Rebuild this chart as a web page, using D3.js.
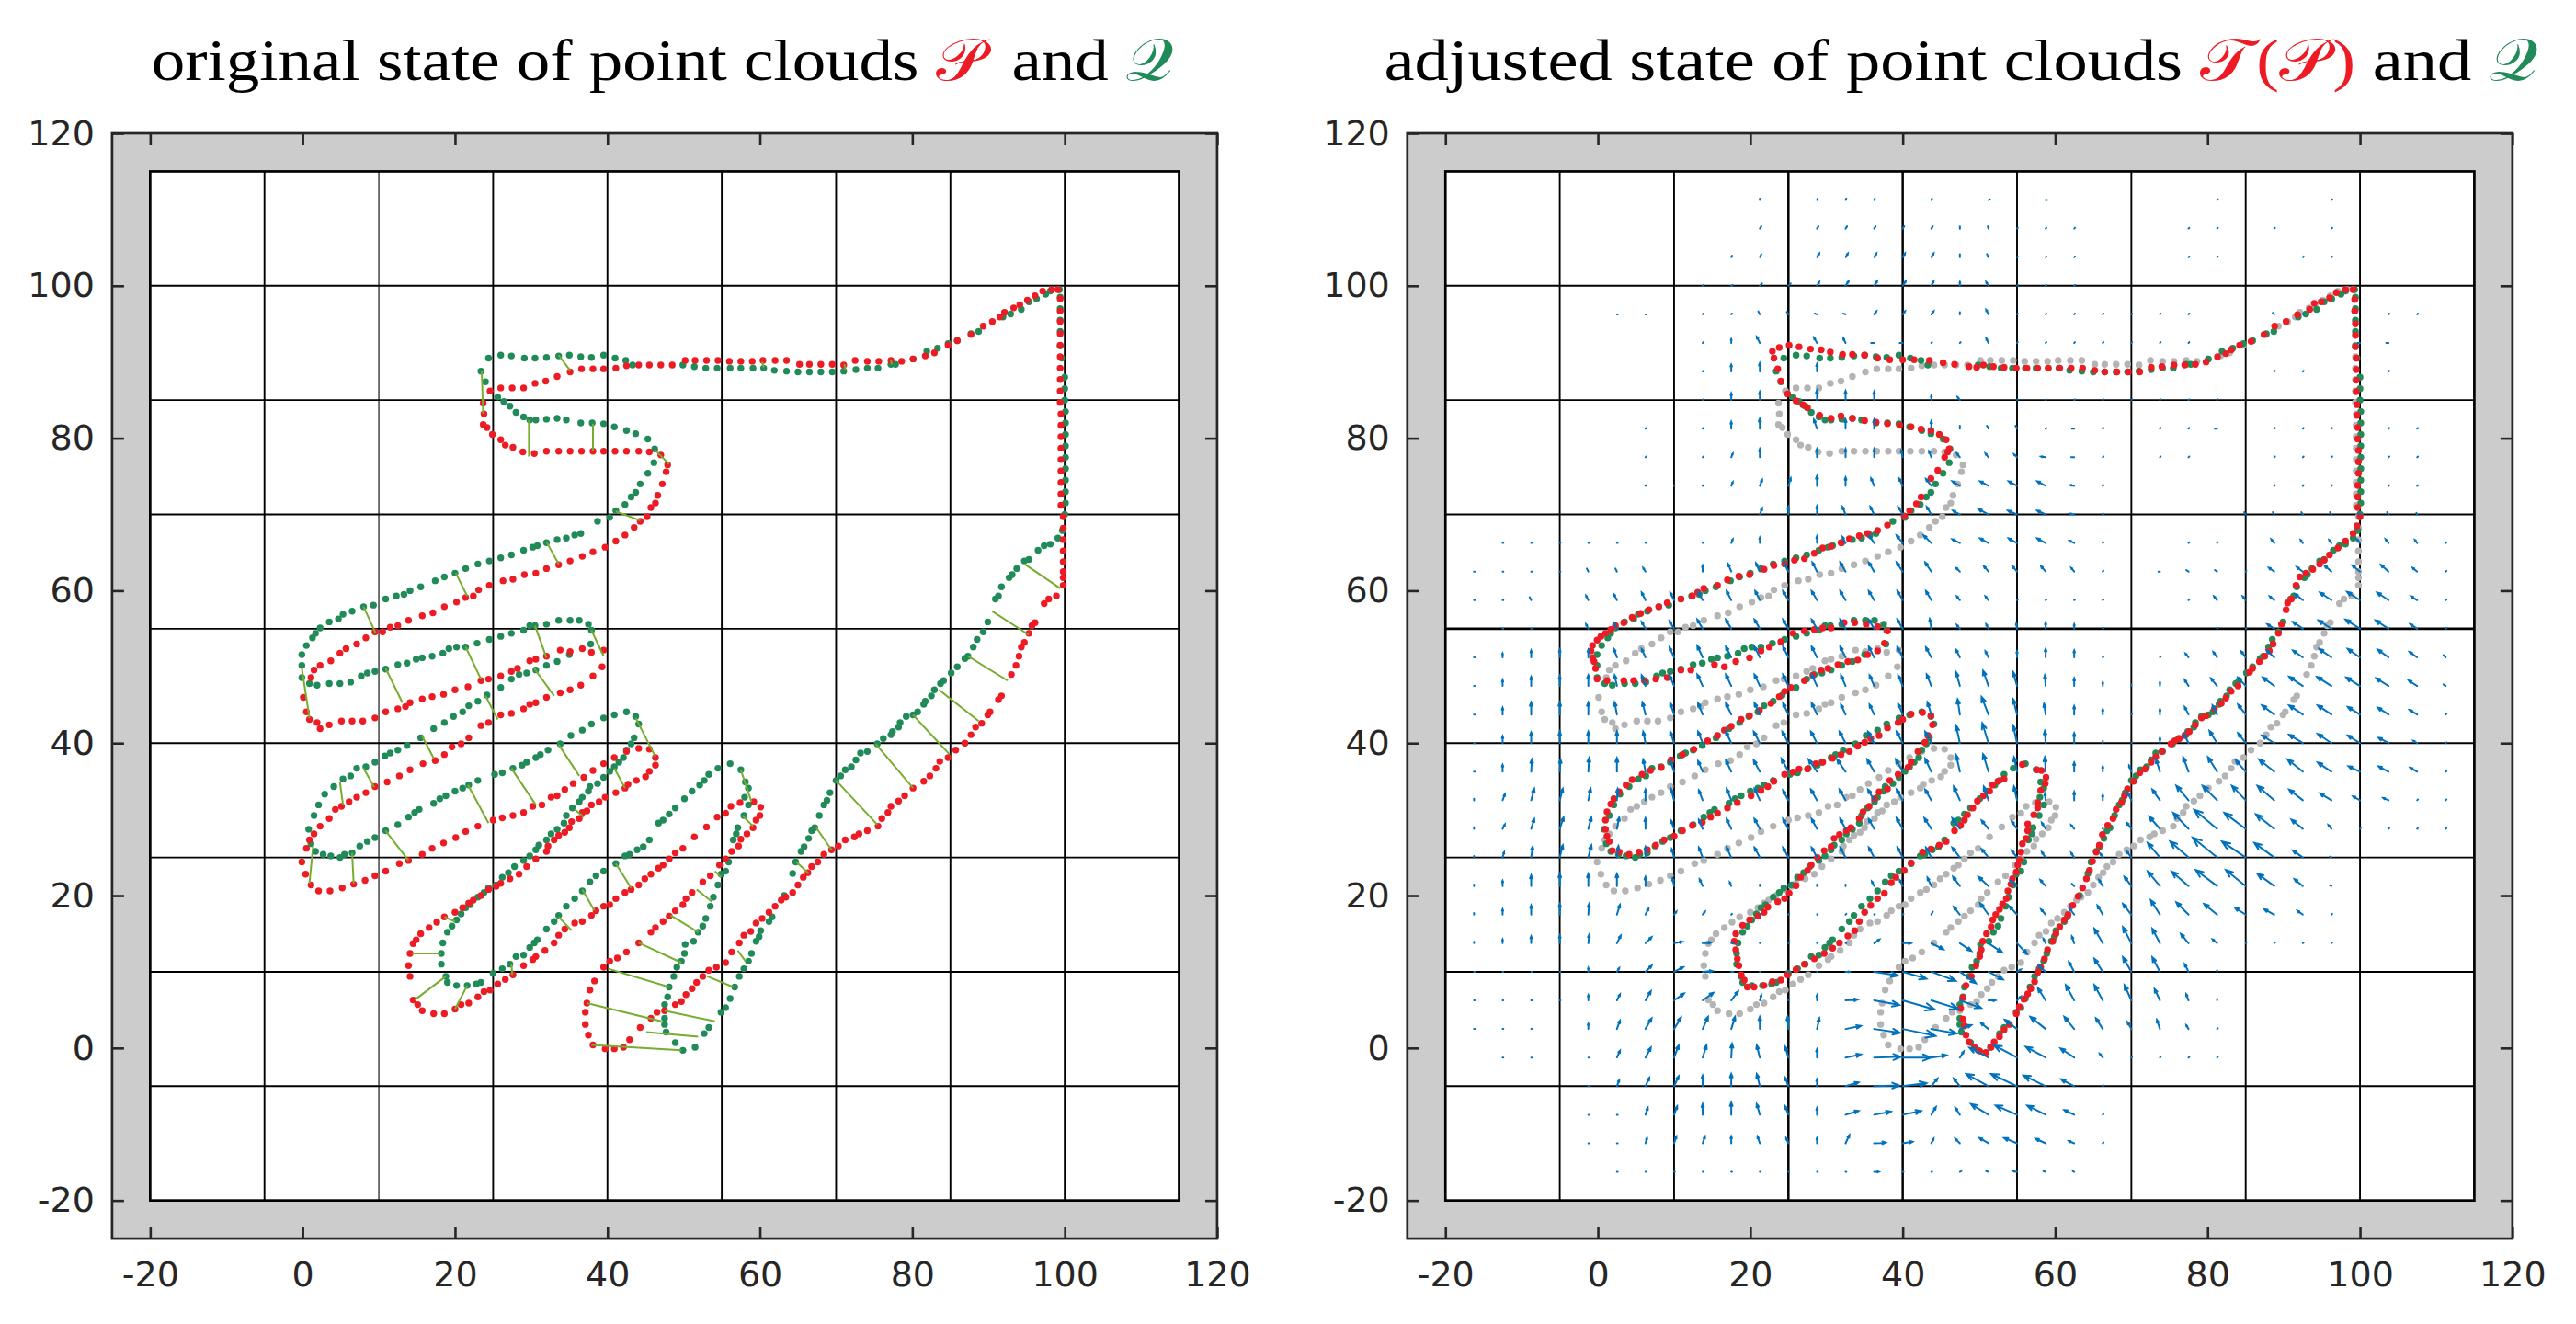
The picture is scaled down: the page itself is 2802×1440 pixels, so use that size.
<!DOCTYPE html>
<html>
<head>
<meta charset="utf-8">
<script src="https://cdn.jsdelivr.net/npm/d3@7"></script>
<style>
  body { margin: 0; background: #fff; }
</style>
</head>
<body>
<div id="chart"></div>
<script>
// ---- data ----
const axisTicks = [-20, 0, 20, 40, 60, 80, 100, 120];
const gridLines = [-5, 10, 25, 40, 55, 70, 85, 100];
const quiverGrid = [-16.25, -12.5, -8.75, -5, -1.25, 2.5, 6.25, 10, 13.75, 17.5, 21.25, 25, 28.75, 32.5, 36.25, 40, 43.75,
  47.5, 51.25, 55, 58.75, 62.5, 66.25, 70, 73.75, 77.5, 81.25, 85, 88.75, 92.5, 96.25, 100, 103.75, 107.5, 111.25];

// original cloud P (red on the left, grey on the right)
const cloudP = [[99.1,99.5],[99.4,98.3],[99.4,96.7],[99.4,95.3],[99.4,93.7],[99.4,92.2],[99.4,90.7],[99.4,89.2],[99.4,87.7],[99.4,86.2],[99.4,84.7],[99.5,83.2],[99.5,81.7],[99.5,80.2],[99.5,78.7],[99.5,77.2],[99.5,75.7],[99.5,74.2],[99.5,72.7],[99.5,71.2],[99.8,69.7],[99.8,68.2],[99.8,66.7],[99.8,65.2],[99.8,63.8],[99.8,62.5],[99.8,61.7],[99.8,60.7],
  [98.9,59.3],[97.9,58.9],[97.3,58.3],[96.1,55.8],[95.7,55.4],[95.3,54.4],[94.7,53.2],[94.3,52.6],[94,51.4],[93.6,50.2],[93,49],[91.7,46.2],[91.3,45.7],[90.2,44.1],[89.9,43.7],[89.1,42.6],[88.3,42.1],[87.7,41.1],[86.9,40],[85.7,39.1],[84.7,38.1],[83.6,37.6],[83.1,36.7],[82.3,35.7],[81.5,35],[80.1,34.1],[79,33.1],[78.2,32.4],[77.2,31.7],[76.8,30.9],[76,30.1],[75.5,29.1],[74.1,28.5],[73,28.1],[72.4,27.7],[71.2,27.3],[70.3,26.5],[69.4,26],[68.4,25.4],[67.6,24.4],[66.8,23.8],[66.3,23],[65.7,22.4],[65,21.4],[64.3,20.4],[63.4,19.8],[62.8,19.4],[62,18.6],[61.2,17.8],[60.3,17],[59.5,16.4],[58.8,15.3],[57.9,14.8],[57.3,13.8],[56.3,12.6],[55.5,11.2],[54.3,10.6],[53.3,10.2],[52.5,9.4],[51.7,8.6],[51.1,7.8],[50.3,7],[49.7,6.1],[48.9,5.7],[47.5,4.9],[46.5,4.7],[45.7,3.9],[44.3,2.7],[42.9,1.1],[42.1,0.1],[40.9,-0.1],[39.7,-0.1],[38.1,0.4],[37.5,1.7],[37.1,3.1],[37.1,4.7],[37.3,5.9],[37.7,7.6],[38.3,8.8],[39.5,10.6],[40.3,11.4],[41.3,11.8],[42.5,12.6],[44.1,13.8],[45.7,15.2],[46.3,15.8],[47.3,16.6],[48.1,17.3],[48.9,18],[49.9,18.8],[50.3,19.6],[51.1,20.4],[52.5,21.8],[53.5,22.6],[54.7,24],[55.5,24.8],[56.3,25.8],[57.2,26.5],[57.5,27.4],[58.3,28.1],[59.1,28.9],[59.5,29.9],[60,30.5],[60.1,31.6],[59.2,32.3],[57.4,32.2],[56.2,31.7],[55.5,30.8],[54.4,30.3],[53,29],[51.4,27.7],[49.9,26.2],[48.9,25.6],[48.1,24.8],[47.3,24],[46.7,23.6],[45.7,22.8],[44.9,22.2],[44.1,21.4],[43.1,20.8],[42.3,20.4],[41.1,19.6],[40.3,18.8],[39.5,18.6],[38.5,18],[37.9,17.4],[36.7,16.6],[35.7,16.4],[34.4,15.6],[33.6,14.8],[33,13.8],[31.8,12.8],[30.6,12],[30.2,11.6],[29,10.8],[27.6,9.6],[26.6,9],[25.6,8.4],[24.6,7.6],[23.8,7.4],[23,6.7],[21.8,5.9],[20.8,5.7],[20,5.1],[18.6,4.5],[17.2,4.5],[15.7,4.9],[15.1,5.7],[14.5,6.3],[14.1,9.4],[13.9,10.8],[14.1,12.4],[14.5,13.7],[14.9,14.2],[15.5,15],[16.6,15.8],[17.6,16.5],[18.6,17.2],[20,17.8],[21,18.4],[21.8,19],[22.4,19.4],[23.4,20],[24.4,20.8],[25.4,21.2],[26,21.6],[27.2,22.2],[28.4,22.8],[29.4,23.8],[30.6,24.8],[32,25.8],[32.2,26.5],[33,27.3],[33.6,27.9],[34.4,28.3],[35,28.9],[35.3,29.7],[36.3,30.1],[36.7,30.9],[37.3,31.1],[37.9,31.9],[38.9,32.3],[39.7,32.9],[41.1,33.5],[42.3,34.1],[42.7,34.6],[43.8,35.1],[45,35.6],[45.5,36.3],[46.3,37.1],[46.3,38.1],[45.5,39.2],[44.1,39.3],[42.5,38.9],[40.9,38.1],[39.5,37.3],[38.1,36.4],[36.9,35.5],[35.5,34.7],[34.4,33.9],[33.4,33.1],[32.6,32.9],[31.4,31.9],[30.2,31.7],[29,30.9],[27.6,30.5],[26.2,30.2],[25,29.9],[23,29.1],[21.4,28.4],[20.1,27.6],[18.5,26.9],[17,26.2],[15.7,25.4],[13.9,24.6],[12.7,24.2],[10.9,23.2],[9.5,22.6],[8.2,22],[6.7,21.5],[5.2,21],[3.6,20.6],[2.1,20.6],[1.1,21.4],[0.4,22.8],[-0.1,24.4],[0.5,26.2],[0.9,27.3],[1.5,28.1],[2.3,29.1],[3.5,30.1],[4.3,31.3],[5.1,31.7],[6.1,32.3],[7.1,32.9],[8.3,33.5],[9.5,34.3],[11.1,34.9],[12.7,35.7],[14.1,36.5],[15.8,37.3],[17.4,37.7],[18.6,38.5],[19.6,39.5],[20.8,39.9],[21.8,40.7],[23.4,42.3],[24.4,42.7],[26,43.7],[27.4,43.9],[29,44.5],[29.8,45.1],[30.6,45.3],[32,46],[33.8,46.6],[35.1,47],[36.5,47.6],[38.1,48.8],[39.3,50],[39.5,52.2],[37.9,51.9],[36.7,52.4],[35.1,52],[33.8,52.2],[32,51.4],[30.6,51],[29.8,50.8],[28.2,49.8],[27.4,49.4],[26,48.8],[24.4,48.4],[23.4,48.2],[21.7,47.4],[20,47],[18.5,46.4],[17,46.1],[15.7,45.8],[14.1,45.3],[13.5,44.8],[12.5,44.5],[10.9,44.1],[9.5,43.3],[7.9,42.9],[6.5,42.9],[5.1,42.9],[3.5,42.4],[2.3,41.9],[1.9,42.7],[0.9,43.1],[0.5,44.1],[0.1,46],[1.1,48.6],[1.5,49.6],[2.3,50.2],[3.7,50.8],[4.9,51.8],[5.7,52.4],[7.1,53],[8.3,53.8],[9.5,54.6],[10.5,54.6],[11.5,55.2],[12.5,55.4],[13.9,56.1],[15.7,56.7],[17.1,57.1],[18.6,57.9],[20.2,58.5],[21.4,59.1],[22.4,59.3],[23.1,60.1],[24.5,60.7],[26.3,61.3],[27.6,61.5],[29.1,62.1],[30.6,62.3],[32,62.9],[33.6,63.4],[35.1,63.9],[36.7,64.5],[38.1,65.1],[39.7,65.7],[41.1,66.5],[42.3,67.3],[43.5,68.3],[44.3,69.1],[45.2,69.7],[45.7,70.9],[46.3,71.5],[46.6,72.5],[47.2,74],[47.7,75.6],[47.9,76.5],[47,77.8],[45.5,78.2],[44.1,78.3],[42.5,78.3],[41,78.3],[39.5,78.3],[38.1,78.3],[36.6,78.3],[35.1,78.3],[33.6,78.3],[32,78.3],[30.4,78],[28.9,78.2],[27.6,78.8],[26.6,79.1],[26,79.8],[24.9,80.5],[24.2,81.4],[23.7,81.8],[23.8,83.2],[23.7,84.6],[24.6,86.2],[26,86.6],[27.5,86.6],[29,86.6],[30.5,87.2],[31.9,87.5],[33.4,88.1],[35.1,88.7],[36.6,89.1],[38.1,89.1],[39.5,89.1],[41.1,89.2],[42.5,89.5],[44.1,89.6],[45.5,89.6],[47,89.6],[48.5,89.6],[50.2,90.2],[51.5,90.2],[53,90.2],[54.5,90.2],[56,90.1],[57.5,90.1],[59,90.1],[60.4,90.2],[62,90.2],[63.5,90.2],[65.2,89.7],[66.5,89.7],[68,89.7],[69.5,89.7],[71,89.6],[72.5,90.2],[74.1,90.1],[75.6,90.1],[77.2,90.2],[78.6,90.1],[80.1,90.4],[81.7,90.8],[82.9,91.2],[84.7,92.2],[85.9,92.8],[87.7,93.6],[89.3,94.7],[90.5,95.3],[91.5,95.9],[92.1,96.5],[93.3,97.1],[94.1,97.5],[95.1,98.1],[96.1,98.7],[97.1,99.3],[98.3,99.5]];

// target cloud Q (green in both panels)
const cloudQ = [[99.3,99.5],[99.4,98.5],[99.4,97],[99.4,95.5],[99.4,94],[99.4,92.1],[99.6,90.5],[100,88],[100,86.5],[100,85],[100.1,83.5],[100.1,82],[100.1,80.5],[100.1,79],[100.1,77.5],[100.1,76],[100.1,74.5],[100.1,73],[100.1,71.5],[100,70],[99.7,67.9],[99.1,66.9],[98.1,66.1],[97.3,65.9],[96.5,65.3],[95.3,64.1],[94.7,63.9],[93.7,62.9],[93.1,62.1],[92.7,61.7],[91.7,60.5],[91.3,59.3],[90.9,58.9],[89.9,55.9],[89.3,54.6],[88.5,53.6],[88,52.6],[87.3,51.4],[86.9,51.1],[85.9,50],[85.1,49.2],[84.1,48.2],[83.7,47.8],[82.9,47],[82.5,46.2],[81.7,45.5],[81.5,45.1],[80.7,44.1],[80.1,43.7],[79.2,43.5],[78.4,42.7],[78.2,42.1],[77.4,41.5],[77.2,41.1],[76.2,40.6],[75.4,39.9],[74.1,38.9],[73.2,38.7],[72.6,37.8],[72,36.9],[71.2,36.5],[70.6,35.7],[70,35.1],[69.2,33.5],[68.8,32.5],[68.4,31.9],[67.8,30.5],[67.2,28.9],[66.8,28.5],[66.4,27.5],[65.8,26.4],[65.4,25.8],[64.7,24.4],[64.3,22.9],[63.2,20],[61.6,17.2],[61.2,16.6],[60.1,15.4],[59.9,14.6],[59.5,14],[58.9,12.4],[58.5,11.4],[57.9,10.4],[57.3,9.4],[56.7,8],[56.1,6.5],[55.5,5.3],[54.9,4.7],[53.3,2.7],[52.7,1.9],[51.5,0.1],[49.9,-0.3],[48.9,0.7],[47.7,2.1],[47.5,3.1],[47.5,3.9],[47.5,5.7],[47.9,6.7],[48.1,8],[48.7,9.4],[49.1,10.6],[49.7,11.4],[50.1,12.4],[50.2,13.6],[51.3,14],[51.9,15.2],[52.5,16],[52.9,17],[53.5,18.6],[53.9,19.8],[54.5,21.4],[54.9,22.8],[55.5,23.2],[55.9,24.4],[56.5,27.3],[56.9,28.1],[57.1,28.9],[57.9,30.5],[58.5,31.9],[58,32.9],[58.5,34.1],[58.1,34.9],[57.5,36.5],[56.1,37.3],[54.5,36.7],[53.3,35.9],[52.7,35.1],[52.1,34.5],[51.1,33.7],[50.1,32.7],[48.9,31.5],[48.1,30.7],[47.3,29.9],[46.7,29.5],[45.5,27.3],[44.7,26.4],[43.9,26],[42.9,25.4],[42.3,25.2],[41.1,24.2],[39.5,23.2],[38.5,22.6],[37.7,21.8],[36.7,20.6],[35.7,19.6],[34.6,18.6],[33.6,17.4],[33,16.6],[32,15.6],[30.8,14.2],[30.4,13.8],[29.8,13.2],[29,12.2],[28,12],[27.2,11],[26.2,10.4],[25,9.8],[23.4,8.6],[22.8,8.4],[21.6,8.2],[20.2,8.2],[19,8.6],[18.8,9.4],[18.2,11],[18.2,12.4],[18.4,13.8],[19,15.2],[19.6,16],[20.2,16.8],[20.8,17.6],[21.4,18.4],[22,18.8],[23,19.8],[23.8,20.4],[24.4,21],[25.4,21.4],[26.2,22.4],[27,23],[27.8,23.8],[29,24.6],[29.8,25.2],[30.6,26],[31,26.6],[32,27.3],[32.6,28.1],[33.4,28.7],[34.3,29.5],[34.6,30.5],[35.4,31.5],[36.3,32.3],[36.7,32.9],[37.5,33.7],[37.7,34.3],[38.7,34.7],[39.5,35.5],[40.3,36.3],[40.9,36.9],[41.5,37.5],[42.1,38.1],[42.5,39.1],[43.1,39.9],[43.5,40.7],[44.1,42.5],[43.7,43.5],[42.5,44.1],[40.9,43.7],[39.5,43.3],[37.9,42.5],[36.7,41.7],[35.2,41],[33.8,39.9],[32.2,39.1],[31.2,38.5],[30.6,38.1],[29.4,37.5],[28.8,37.1],[27.6,36.7],[26.2,36.1],[25.2,35.9],[23,35.1],[21.8,34.5],[21,34.1],[20,33.7],[18.8,33.1],[18,32.7],[17.2,32.1],[15.3,31.3],[14.7,30.9],[13.9,30.3],[12.5,29.3],[10.9,28.5],[9.5,27.6],[8.5,27.1],[7.5,26.5],[6.5,25.6],[5.5,25.4],[4.9,25],[3.7,25.2],[2.7,25.4],[1.7,25.8],[1.1,26.8],[0.8,28.7],[1.5,30.5],[2.1,31.9],[2.9,33.3],[4.1,34.3],[5.3,35.3],[6.3,35.7],[7.1,36.7],[8.3,36.9],[9.5,37.5],[10.8,38.3],[11.5,38.7],[12.5,39.1],[13.7,39.7],[15.5,40.7],[17.2,41.9],[18.6,42.7],[19.8,43.5],[21,44.1],[21.8,44.9],[23,45.5],[24.2,46.3],[26,47.3],[27.4,48.4],[28.4,49],[29.4,49.2],[30.6,49.6],[32,50.2],[33.4,50.7],[35,51.6],[37.8,53],[37.9,54.8],[37.5,55.6],[36.3,56.1],[35.1,56.1],[33.6,56.1],[32,55.6],[30.5,55.4],[29.8,55.4],[29,54.8],[27.4,54.4],[26,54],[24.5,53.6],[22.9,53.1],[21.4,52.6],[20.2,52.6],[19.2,52.4],[18.4,51.8],[17,51.4],[15.7,51.2],[14.9,51],[13.7,50.5],[12.5,50.3],[10.9,49.7],[9.5,49.4],[8.5,49.2],[7.7,48.8],[6.3,48],[4.9,47.8],[3.5,47.8],[1.9,47.6],[0.9,47.8],[-0.1,48.6],[-0.1,50.2],[-0.1,51.6],[0.5,52.8],[1.3,53.8],[1.7,54.4],[2.3,55.1],[3.5,55.9],[4.7,56.3],[5.3,56.9],[6.5,57.3],[8,57.9],[9.3,58.1],[10.9,58.9],[12.3,59.3],[13.3,59.5],[14.1,60],[15.5,60.5],[17.4,61.3],[18.6,61.8],[20,62.3],[21.4,62.9],[23,63.5],[24.5,63.9],[26,64.3],[27.4,64.7],[29,65.3],[30.2,65.7],[30.8,65.9],[32,66.3],[33.4,66.7],[34.6,66.9],[35.7,67.3],[36.5,67.5],[38.7,69.1],[40.3,69.6],[41.1,70.5],[42.3,71.3],[43.1,72.3],[43.7,72.9],[44.3,74],[45.3,75.4],[46.1,76.8],[46.2,78.6],[45.3,79.9],[43.7,80.6],[42.5,81],[40.9,81.5],[39.5,81.9],[38,82],[36.5,82],[34.6,82.4],[33.4,82.6],[32,82.5],[30.6,82.4],[29.8,82.4],[29,82.8],[28,83.4],[27.2,84.2],[26.4,84.8],[25.6,85.4],[24,87.4],[23.4,88.8],[24.4,90.5],[26,90.9],[27.4,90.8],[29.1,90.5],[30.5,90.5],[32,90.6],[33.6,90.8],[35,90.9],[36.5,90.7],[37.9,90.6],[39.5,90.9],[41,90.5],[42.4,90.2],[43.3,89.6],[49.9,89.6],[51.4,89.4],[52.9,89.2],[54.4,89.2],[56.1,89.2],[57.5,89.2],[59.1,89.2],[60.5,89.2],[61.9,88.9],[63.5,88.8],[65,88.7],[66.5,88.7],[68,88.7],[69.5,88.7],[71,88.8],[72.6,89],[74.1,89.2],[75.5,89.2],[77.2,89.7],[77.8,89.7],[80.1,90.4],[81.9,91.4],[83.3,91.8],[84.7,92.4],[85.9,92.8],[87.7,93.7],[88.7,94],[91.9,95.9],[92.9,96.3],[94.3,96.9],[95.3,97.9],[96.3,98.3],[97.5,98.9],[98.1,99.3]];

// transformed cloud T(P) (red on the right)
const cloudTP = [[99.1,99.5],[99.3,98.2],[99.3,96.7],[99.4,95],[99.4,93.5],[99.4,92],[99.5,90.5],[99.5,89],[99.5,87.6],[99.5,86.1],[99.6,84.4],[99.6,83],[99.7,81.4],[99.7,79.9],[99.8,78.4],[99.8,76.9],[99.8,75.4],[99.7,73.8],[99.7,72.3],[99.7,70.9],[100,69.7],[99.6,68.5],[99.1,67.5],[98.1,66.5],[97.1,65.6],[96,64.7],[95.3,64],[94.7,63.5],[93.8,62.8],[92.9,62.3],[92.1,61.8],[91.6,60.7],[91,58.9],[90.5,58.4],[90.3,57.5],[89.7,55.6],[89.3,54.4],[88.6,53],[88.1,52.1],[87.5,51.4],[86.8,50.7],[85.9,49.8],[85.5,49.3],[84,47.5],[83.1,46.8],[82.4,45.9],[81.8,45.2],[80.9,44.5],[79.8,43.6],[79.2,43.3],[78.4,42.4],[77.6,41.5],[77,41],[76.3,40.6],[75.7,40.3],[75.2,39.9],[74,38.9],[73.2,38.2],[72.6,37.5],[71.8,36.6],[71.1,36.1],[70.3,35],[69.5,34],[69.1,33.1],[68.7,32.2],[68,31.3],[67.6,30.1],[66.9,29.2],[66.2,28],[65.8,26.6],[65.4,25.7],[64.9,24.5],[64.5,23.3],[64.1,22.2],[63.6,21],[63,19.9],[62.3,18.7],[61.7,17.5],[61.2,16.8],[60.6,15.9],[60.1,15],[59.7,14],[59,12.9],[58.6,11.7],[58.1,10.6],[57.7,9.9],[57.3,8.7],[56.8,7.8],[56.4,7.1],[55.9,6.4],[55.3,5.4],[54.9,4.5],[54,3.1],[53.3,2.4],[52.7,1.5],[52,0.8],[51.6,0.1],[50.9,-0.6],[50.1,-0.4],[49.4,0.1],[48.7,0.8],[48.3,1.7],[48.1,2.9],[47.9,3.8],[47.6,5.2],[47.9,6.6],[48.3,8.2],[49,9.4],[49.6,10.8],[50.1,12],[50.3,12.9],[50.5,14],[51,15],[51.6,15.9],[51.8,16.8],[52.2,17.5],[52.7,18.2],[53.1,18.9],[53.6,19.6],[53.8,20.6],[54.2,21.5],[54.4,22.2],[54.9,23.1],[55.1,24],[55.3,24.7],[55.5,25.7],[55.7,26.8],[56.2,27.5],[56.4,28.5],[56.4,29.4],[57.2,30.6],[57.7,31.5],[57.7,32.2],[58.1,33.8],[58.7,34.7],[58.8,35.5],[58.2,36.4],[57.6,36.5],[55.7,37.2],[53.3,35.3],[52.5,35],[51.8,34.5],[51.4,33.7],[50.6,33.1],[49.8,32.4],[49.2,31.5],[48.5,30.6],[48.1,29.9],[47.6,29.2],[46.8,28.5],[45.7,27.1],[44.8,26.6],[43.7,26.1],[42.6,25.7],[41.1,24.3],[40.2,23.3],[39.1,22.4],[38.5,21.7],[37.6,20.3],[36.7,19.6],[35.8,18.7],[35,17.8],[34.3,16.6],[33.7,15.4],[32.8,14.7],[31.7,13.8],[30.8,13.1],[29.7,12.4],[28.4,11.7],[27.1,11],[26,10.3],[24.9,9.6],[24,8.9],[22.9,8.7],[21.8,8.2],[20.5,8],[19.6,8],[19.2,8.9],[18.8,9.6],[18.5,10.8],[18.3,11.7],[18.1,12.9],[17.9,14],[18.1,15],[19,16.1],[19.9,16.8],[21,17.3],[21.8,17.8],[22.3,18.5],[23.6,19.2],[24.5,19.6],[25.1,20.3],[26,21.3],[26.6,22.4],[27.5,23.3],[28,24],[28.8,25],[29.7,25.9],[30.6,26.4],[31,27.5],[31.7,28],[32.6,28.5],[33.2,28.9],[34.3,30.1],[34.8,31],[35.6,31.7],[36.3,32.7],[36.9,33.6],[38,34],[38.3,35.1],[39.4,35.9],[40.7,36.8],[41.1,37.5],[42,38.9],[42.9,40.1],[43.3,41],[43.9,42.4],[43.7,43.6],[42.6,44],[41.1,43.8],[40,43.1],[39.4,42.7],[38,42],[36.9,41],[35.8,40.6],[35,40.1],[34.1,39.6],[33,38.9],[31.9,38.5],[30.8,38],[29.5,37.5],[28.6,37.3],[27.5,36.6],[26.4,36.6],[25.6,36.2],[24.5,35.9],[23.1,35],[22.3,34.3],[21.4,33.8],[20.1,33.1],[18.3,32.2],[17,31.5],[15.7,30.8],[14.8,30.3],[13.7,29.6],[12.4,29.2],[11.1,28.5],[10,27.8],[8.7,27.3],[7.6,26.6],[6.5,26],[5.4,25.7],[4.1,25.4],[2.8,25.7],[1.9,25.9],[1.5,27.1],[1.2,27.8],[1,28.7],[1,29.9],[1.2,31],[1.7,32],[2.1,32.7],[2.8,33.6],[3.7,34.5],[4.5,35.2],[5.8,35.9],[6.9,36.4],[8.3,36.8],[9.6,37.8],[11.1,38.5],[12.6,39.2],[14.4,40.3],[15.7,41],[16.6,41.7],[17.5,42.2],[18.8,43.1],[19.9,43.6],[21.2,44.3],[22.7,45.2],[23.8,46.1],[24.5,46.8],[25.3,47.3],[27.1,48.2],[28.2,48.9],[29.3,49.6],[30.2,49.8],[31.5,50.3],[32.8,50.7],[34.1,50.9],[35.4,51.6],[36.7,52.1],[37.6,53.1],[38,54.7],[36.7,55.3],[35.2,55.6],[33.7,55.8],[32.3,55.8],[30.6,55.1],[29.5,55.1],[28.4,54.9],[27.1,54.7],[25.6,54.4],[24,53.3],[22.5,52.6],[21.4,52.1],[19.9,51.2],[18.1,50.7],[16.6,50],[15.3,50.3],[12.2,49.6],[10.9,49.6],[9.1,48.6],[7.6,48.4],[6.1,48.2],[4.7,48.2],[3.4,48.2],[1.2,48.2],[-0.1,48.4],[-0.3,49.8],[-0.5,50.7],[-0.7,51.2],[-0.9,52.1],[-0.7,52.8],[-0.1,53.5],[0.4,54],[1,54.4],[1.7,54.9],[2.3,55.4],[3.4,55.8],[4.5,56.5],[5.6,57],[6.7,57.5],[8,57.9],[9.1,58.4],[10.9,58.9],[12.4,59.3],[13.1,59.8],[13.9,60.3],[15.7,60.7],[17,61.4],[18.5,61.9],[19.9,62.1],[21.8,62.8],[23.1,63.3],[24.5,63.5],[25.8,64],[27.1,64.2],[28.4,64.9],[29.5,65.6],[30.6,65.8],[31.9,66.3],[33,66.8],[34.3,67.2],[35.4,67.5],[36.7,67.9],[38,68.6],[40.2,69.8],[40.9,70.5],[41.8,71.4],[42.4,72.3],[43.7,74.7],[44.6,75.8],[45.5,77.5],[45.9,78.2],[46.1,78.6],[45.7,79.8],[44.8,80.5],[43.7,81],[42.4,81.2],[41.1,81.5],[39.6,81.7],[38,81.9],[36.5,82.1],[35,82.3],[33.4,82.6],[31.9,82.9],[30.6,82.6],[29.1,83],[27.5,84],[26.9,84.4],[26,84.9],[24.9,85.8],[24,87.5],[23.6,89.1],[23.1,90.5],[22.9,91.4],[23.8,91.9],[25.1,92.2],[26.4,92],[27.9,91.7],[29.3,91.6],[30.5,91.3],[32.1,91],[33.4,91],[35,90.9],[36.7,90.5],[38.3,90.3],[40,90.3],[41.5,90.3],[43.5,90.2],[45.3,89.9],[46.8,89.7],[48.7,89.4],[49.7,89.3],[50.6,89.6],[51.9,89.4],[53.3,89.3],[54.9,89.2],[56.3,89.2],[57.7,89.2],[59.1,89.2],[60.6,89.2],[62.1,89.2],[63.6,89.2],[65.2,88.9],[66.5,88.7],[68.1,88.7],[69.6,88.7],[71.1,88.7],[72.6,89.3],[74,89.4],[75.6,89.6],[77,89.6],[78.4,89.7],[79.8,90],[81.3,90.7],[82.4,91.1],[83.1,91.6],[84.2,92.2],[85.7,92.7],[87.4,93.6],[88.8,94.7],[90.3,95.3],[91.8,96.2],[93.4,96.9],[94,97.7],[94.9,97.9],[96,98.4],[96.9,99.1],[98.1,99.5]];

// correspondences P -> Q drawn on the left: [x1, y1, x2, y2]
const matches = [[33.6,90.9,35.1,88.9],[23.5,88.8,23.7,83.2],[29.7,82.4,29.7,77.6],[38.1,81.9,38.1,78.4],[46.3,78.4,48.1,76.6],[41.1,70.4,44.3,69.2],[32,66.4,33.6,63.5],[20.1,62.3,21.6,59.3],[8,57.9,9.6,54.4],[30.5,55.4,32,51.2],[37.9,54.8,39.5,51.4],[21.4,52.6,23.4,48.4],[-0.1,49.8,0.9,43.3],[10.9,49.8,13.1,45.3],[30.4,49.8,33,46.2],[4.9,34.9,5.3,31.9],[8,36.7,9.4,34.2],[15.7,40.9,17.2,38],[33.6,39.8,36.3,35.7],[27.4,36.7,30.6,31.9],[21.7,34.5,24.4,29.5],[10.9,28.5,13.9,24.6],[1.4,26.7,0.9,21.6],[6.5,25.6,6.7,21.6],[43.7,43.3,46.3,38.2],[40.9,36.7,42.3,34.1],[35.7,31.3,36.9,30.3],[24,46.2,25.6,43.1],[41.1,24.2,43.1,21],[36.7,20.8,38.3,18],[33.6,17.2,35.3,15.4],[18.6,17.2,20,16.6],[14.3,12.4,18.2,12.4],[14.7,6.3,18.8,9.4],[20,5.1,21.6,8.2],[27.4,11,27.5,9.6],[48.3,17.4,51.9,15.2],[44.1,13.8,49.7,11.2],[40.1,10.4,48.1,8],[37.3,5.9,47.1,3.5],[47.5,4.9,54.1,3.5],[45.1,2.1,51.9,1.5],[37.9,0.4,49.7,-0.3],[53.1,9.4,56.5,8],[51.7,20.8,53.7,19.2],[54.1,23.2,54.9,22.4],[57.1,12.8,58.1,11.4],[57.5,36.5,58.9,32.3],[57.7,30.5,59.1,29.1],[64.8,24.4,66.4,22.9],[67.4,28.9,69.4,26],[70,35.1,75.4,29.3],[75.2,39.9,80.1,34.1],[80.1,43.7,84.9,38.5],[83.5,47,88.7,42.9],[87.3,51.4,92.5,48.2],[94.7,63.5,99.4,60.3],[90.5,57.3,95.3,54.2],[60.3,90,60.5,89.3],[71.1,89.7,71.2,89],[77.2,90.2,77.3,89.7]];

// displacement field on the right: [row y, [[column index into quiverGrid, u, v], ...]]
const quiverRows = [
  [111.25, [[10,0,.2],[12,.1,.2],[13,.1,.2],[14,.1,.2],[16,.1,.2],[18,.2,.1],[20,.2,0],[26,.1,.1],[30,.1,.1]]],
  [107.5, [[10,.2,.3],[12,.2,.3],[13,.2,.3],[14,.2,.3],[15,.2,.3],[16,.2,.3],[17,0,.3],[18,-.1,.3],[19,.1,.1],[20,.1,.1],[21,.1,.1],[25,.1,.1],[26,.1,.1],[28,.1,.1],[30,.1,.1]]],
  [103.75, [[9,.1,.2],[10,.2,.4],[12,.3,.5],[13,.3,.5],[14,.3,.5],[15,.3,.5],[16,.3,.5],[17,0,.4],[18,-.2,.4],[19,.1,.1],[20,.1,.1],[21,.1,.1],[25,.1,.1],[26,.1,.1],[29,.1,.1],[30,.1,.1]]],
  [100, [[8,.1,.1],[9,.2,.1],[10,.3,.3],[11,.3,.3],[12,.3,.5],[13,.4,.6],[14,.4,.6],[15,.4,.6],[16,.3,.6],[17,0,.5],[18,-.3,.5],[19,.1,.1],[20,.1,.1],[21,.1,.1]]],
  [96.25, [[5,.1,0],[6,.1,0],[8,.1,.1],[9,.1,.1],[10,-.2,.4],[11,-.2,.3],[12,-.3,.1],[13,-.3,.1],[14,.3,.4],[15,.3,.4],[16,.3,.4],[17,0,.3],[18,-.3,.6],[19,.1,.1],[20,.1,.1],[21,.1,.1],[22,.1,.1],[23,.1,.1],[24,.1,.1],[25,.1,.1],[28,-.2,.2],[29,.1,.1],[32,.1,.1],[33,.1,.1]]],
  [92.5, [[8,.1,.1],[9,0,.5],[10,-.4,.8],[12,-.4,.7],[13,-.3,.6],[14,-.4,0],[15,-.4,0],[16,.1,.1],[17,.1,.1],[18,-.3,.6],[19,.1,.1],[20,.1,.1],[21,.1,.1],[22,.1,.1],[23,.1,.1],[24,.1,.1],[25,.1,.1],[31,-.3,0],[32,-.3,0]]],
  [88.75, [[8,.1,.1],[9,0,.9],[10,0,1.1],[12,0,1],[28,.1,.1],[29,.1,.1],[32,.1,.1]]],
  [85, [[8,.1,.1],[9,0,.9],[10,0,1.1],[12,0,1.3],[13,0,1.2],[14,0,1.1],[16,0,.6],[17,-.3,.4],[19,.1,.1],[20,.1,.1],[21,.1,.1],[22,.1,.1],[23,.1,.1],[24,.1,.1],[25,.1,.1],[26,.1,.1]]],
  [81.25, [[6,.1,.1],[8,.1,.1],[9,0,.9],[10,0,1.3],[12,-.4,1.2],[13,0,1.2],[14,0,1.2],[16,0,1],[17,0,.4],[18,-.2,.4],[19,-.2,.4],[20,.1,.1],[21,-.3,0],[22,.1,.1],[24,.1,.1],[25,.1,.1],[26,-.3,0],[28,.1,.1],[29,.1,.1],[30,.1,.1],[32,.1,.1],[33,.1,.1]]],
  [77.5, [[6,.1,.1],[8,.1,.1],[9,.2,.5],[10,0,1.1],[12,0,1.1],[13,0,1.1],[14,0,1.1],[15,-.2,.9],[16,-.3,.8],[17,-.4,.5],[18,-.4,.5],[19,-.4,.4],[20,-.6,.1],[21,-.4,0],[22,.1,.1],[24,.1,.1],[25,.1,.1],[28,.1,.1],[29,.1,.1],[30,.1,.1],[32,.1,.1],[33,.1,.1]]],
  [73.75, [[6,.1,.1],[7,.1,.1],[8,.1,.1],[9,.2,.5],[10,.3,.8],[11,.3,1],[12,0,1.3],[13,0,1.1],[14,-.4,1],[15,-.5,1],[16,-.7,.9],[17,-1,.6],[18,-1.1,.6],[19,-1.1,.6],[20,-1.1,.6],[21,-.5,.1],[22,.1,.1],[28,.1,.1],[29,.1,.1],[30,.1,.1],[32,.1,.1],[33,.1,.1]]],
  [70, [[10,.3,.8],[11,0,1],[12,0,1.1],[13,-.4,1],[14,-.5,1],[15,-.6,1],[16,-.6,1],[17,-.9,.5],[18,-1.3,.7],[19,-1.2,.5],[20,-1.1,.5],[21,-.6,.1],[22,.1,.1],[27,-.2,.3],[28,-.2,.3],[29,-.2,.3],[30,-.2,.3],[31,-.2,.3],[32,-.2,.3],[33,-.1,.2]]],
  [66.25, [[1,.1,0],[2,.1,0],[3,.1,0],[4,.1,0],[5,.1,0],[6,.1,0],[8,.1,.1],[9,.2,.5],[10,0,.7],[12,0,.9],[13,-.4,.8],[14,-.6,.9],[15,-.8,1],[16,-1,1],[17,-1,.5],[18,-1.1,.6],[19,-1.1,.6],[20,-1.1,.6],[21,-.6,.3],[22,.1,.1],[25,.1,.1],[26,.1,.1],[28,-.4,.5],[29,-.3,.4],[30,-.3,.4],[31,-.4,.5],[32,-.4,.5],[33,-.3,.4],[34,.1,.1]]],
  [62.5, [[0,.1,0],[1,.1,0],[2,.1,0],[3,.1,0],[4,-.2,.4],[5,-.2,.4],[6,-.3,.5],[8,0,.8],[9,-.4,1],[10,-.5,1.1],[11,-.6,1.2],[12,-.6,1.2],[13,-.7,1.2],[14,-.7,1.2],[15,-.8,1.2],[16,-.8,1.2],[17,-.5,.5],[18,-.6,.7],[19,-.6,.7],[20,-.6,.7],[21,-.4,.5],[22,.1,.1],[24,-.2,0],[25,-.3,.2],[26,-.3,.2],[27,.1,.1],[28,-.7,.5],[29,-.8,.6],[30,-.9,.8],[31,-1,.8],[32,-1,.9],[33,-.6,.5],[34,.1,.1]]],
  [58.75, [[0,.1,0],[1,.1,0],[2,-.2,.4],[4,-.3,.6],[5,-.4,.8],[6,-.5,1],[7,-.5,1],[8,-.6,1.1],[9,-.6,1.2],[10,-.6,1.2],[11,-.7,1.2],[12,-.7,1.2],[13,-.7,1.2],[14,-.7,1.2],[15,-.7,1.2],[16,-.7,1.2],[17,-.4,.5],[18,-.4,.5],[19,.1,.1],[20,.1,.1],[21,.1,.1],[22,.1,.1],[25,.1,.1],[26,-.4,.5],[27,-.4,.5],[28,-.6,.5],[29,-1,.8],[30,-1.5,1],[31,-1.7,1.1],[32,-1.5,1],[33,-.8,.5],[34,.1,.1]]],
  [55, [[1,.1,0],[2,.1,0],[4,-.3,.6],[5,-.4,.8],[6,-.5,.9],[7,-.6,1],[8,-.7,1.2],[9,-.7,1.2],[10,-.7,1.2],[11,-.7,1.2],[12,-.7,1.2],[13,-.7,1.2],[14,-.7,1.2],[15,-.7,1.2],[16,-.2,1.3],[17,-.4,.5],[18,-.3,.6],[19,-.1,.7],[20,0,.8],[21,0,.6],[22,.1,.1],[26,.1,.1],[27,.1,.1],[28,-.9,.6],[29,-1.3,.9],[30,-1.7,1.1],[31,-1.9,1.2],[32,-1.7,1.1],[33,-.9,.6],[34,.1,.1]]],
  [51.25, [[0,.1,0],[1,0,.5],[2,0,.9],[3,0,1],[4,0,1],[5,-.4,1.1],[6,-.5,1.1],[7,-.6,1.3],[8,-.7,1.5],[9,-.7,1.4],[10,-.7,1.4],[11,-.7,1.4],[12,-.7,1.4],[13,-.7,1.4],[14,-.7,1.4],[15,-.7,1.3],[16,-.7,1.3],[17,-.5,1],[18,-.4,.8],[19,0,.8],[20,0,1.1],[21,0,.9],[22,.1,.1],[24,.1,.1],[25,-.4,.5],[26,-.5,.7],[27,-.6,.8],[28,-1,.9],[29,-1.3,.9],[30,-1.6,1.1],[31,-1.6,1.1],[32,-1.4,1],[33,-1,.7],[34,-.3,.3]]],
  [47.5, [[0,.1,0],[1,0,.8],[2,0,1.2],[3,0,1.3],[4,0,1.4],[5,-.3,1.4],[6,-.5,1.4],[7,-.6,1.4],[8,-.7,1.5],[9,-.7,1.5],[10,-.7,1.5],[11,-.7,1.5],[12,-.7,1.5],[13,-.6,1.4],[14,-.6,1.4],[15,-.6,1.4],[16,-.6,1.5],[17,-.5,1.8],[18,-.7,2],[19,-.5,1.8],[20,-.1,1.4],[21,0,1],[22,0,.5],[23,0,.2],[24,0,.5],[25,-.5,.8],[26,-.8,1],[27,-1,1.1],[28,-1.5,1.1],[29,-1.8,1.2],[30,-1.9,1.2],[31,-1.8,1.1],[32,-1.6,1],[33,-1.1,.7],[34,-.3,.2]]],
  [43.75, [[0,.1,0],[1,0,.9],[2,0,1.6],[3,0,1.6],[4,0,1.6],[5,-.3,1.6],[6,-.4,1.6],[7,-.5,1.5],[8,-.6,1.5],[9,-.7,1.5],[10,-.7,1.5],[11,-.7,1.5],[12,-.7,1.5],[13,-.6,1.3],[14,-.6,1.3],[15,-.6,1.4],[16,-.5,1.6],[17,-.3,2],[18,-.9,2.3],[19,-.5,2],[20,-.2,1.4],[21,0,1.1],[22,0,.7],[23,.1,.1],[24,0,.7],[25,-.5,1],[26,-.6,1.2],[27,-1,1.3],[28,-1.6,1.2],[29,-1.8,1.2],[30,-1.8,1.2],[31,-1.6,1],[32,-1.4,.9],[33,-1,.6],[34,.1,.1]]],
  [40, [[0,.1,0],[1,0,.9],[2,0,1.4],[3,0,1.5],[4,0,1.5],[5,0,1.5],[6,-.3,1.5],[7,-.5,1.5],[8,-.6,1.5],[9,-.7,1.5],[10,-.8,1.5],[11,-.8,1.5],[12,-.8,1.5],[13,-.8,1.5],[14,-.8,1.5],[15,-.8,1.5],[16,-.8,1.5],[17,-.5,2.3],[18,-.8,2.6],[19,-.5,2.3],[20,-.1,1.6],[21,0,1.3],[22,0,.3],[23,.1,.1],[24,0,.7],[25,-.6,1.2],[26,-1,1.6],[27,-1,1.3],[28,-1.6,1],[29,-1.8,1.1],[30,-1.8,1.2],[31,-1.6,1],[32,-1.3,.7],[33,-.5,.3],[34,.1,.1]]],
  [36.25, [[0,.1,0],[1,0,.9],[2,.1,1.6],[3,.1,1.6],[4,.1,1.8],[5,0,1.8],[6,-.3,1.6],[7,-.5,1.5],[8,-.6,1.4],[9,-.7,1.5],[10,-.8,1.5],[11,-.9,1.7],[12,-1.1,1.6],[13,-1.1,1.6],[14,-.9,1.6],[15,-.9,1.6],[16,-.8,1.7],[17,-.5,2.2],[18,-.7,2.3],[19,-.4,1.9],[20,-.1,1.9],[21,0,1.2],[22,0,.7],[23,-.3,.8],[24,-.5,1.6],[25,-.7,1.9],[26,-1.2,1.9],[27,-1.3,1.5],[28,-2,1.6],[29,-2,1.6],[30,-1.8,1.2],[31,-1.5,.7],[32,-1.3,.7],[33,-.9,.5],[34,.1,.1]]],
  [32.5, [[0,0,.2],[1,.3,.8],[2,.4,1.5],[3,.4,1.5],[4,.3,1.5],[5,.1,1.5],[6,0,1.4],[7,-.4,1.5],[8,-.5,1.3],[9,-.6,1.5],[10,-.7,1.5],[11,-.7,1.3],[12,-.8,1.4],[13,-.8,1.4],[14,-.8,1.4],[15,-.8,1.4],[16,-.8,1.4],[17,-.8,1.8],[18,-.6,1.8],[19,-.4,1.8],[20,-.1,.9],[21,0,1.1],[22,0,.7],[23,-.5,1],[24,-1,1.4],[25,-1.6,1.9],[26,-1.9,1.9],[27,-1.8,1.9],[28,-2.2,1.9],[29,-1.8,1.4],[30,-1.5,.9],[31,-.9,.5],[32,-.7,.3],[33,.1,.1],[34,.1,.1]]],
  [28.75, [[0,0,.2],[1,.3,.6],[2,.4,1.3],[3,.5,1.5],[4,.4,1.5],[5,.3,1.5],[6,0,1.4],[7,-.4,1.1],[8,-.5,1.2],[9,-.6,1.3],[10,-.7,1.3],[11,-.7,1.3],[12,-.7,1.3],[13,-.7,1.3],[14,-.7,1.3],[15,-.8,1.4],[16,-.9,1.4],[17,-1,1.4],[18,-.9,1.1],[19,-.7,1],[20,-.5,.8],[21,-.4,.5],[22,0,.2],[23,-.6,.8],[24,-1.4,1.6],[25,-2,2.1],[26,-3,2.5],[27,-2.8,2.1],[28,-2.4,1.9],[29,-1.5,1.2],[30,-.4,.5],[31,.1,.1],[32,.1,.1],[33,.1,.1],[34,.1,.1]]],
  [25, [[0,0,.2],[1,.2,.7],[2,.2,1.4],[3,.4,1.6],[4,.4,1.6],[5,.2,1.5],[6,0,1.4],[7,-.3,1.1],[8,-.5,1.3],[9,-.6,1.3],[10,-.7,1.3],[11,-.7,1.3],[12,-.7,1.3],[13,-.7,1.3],[14,-.7,1.3],[15,-.7,1.3],[16,-.7,1.3],[17,-1,1.3],[18,-.9,1.1],[19,-.7,.9],[20,-.5,.7],[21,-.4,.6],[22,-.3,.5],[23,-.6,.8],[24,-1.6,1.9],[25,-2.4,2.1],[26,-3.2,2.6],[27,-3.1,2.1],[28,-2.6,1.9],[29,-1.3,.9],[30,-.2,.1]]],
  [21.25, [[0,0,.2],[1,0,.7],[2,0,1.4],[3,0,1.6],[4,0,1.6],[5,0,1.6],[6,0,1.2],[7,-.2,1],[8,-.4,.9],[9,-.2,.5],[10,0,.2],[11,0,.2],[12,0,.2],[13,0,.2],[14,-.3,.6],[15,-.4,.8],[16,-.5,1.1],[17,-.9,1.2],[18,-1.3,1.2],[19,-.9,.7],[20,-.7,.8],[21,-.3,.3],[22,-.5,.8],[23,-.9,1.2],[24,-1.6,1.9],[25,-2.2,1.9],[26,-2.8,2.1],[27,-2.6,2.1],[28,-2.2,1.6],[29,-1.1,.9],[30,-.2,.1]]],
  [17.5, [[0,0,.2],[1,0,.7],[2,0,1.2],[3,0,1.4],[4,.1,1.4],[5,.4,1.3],[6,.4,.8],[7,.3,.4],[8,.3,.4],[9,.1,.1],[10,.1,.1],[11,.1,.1],[12,.1,.1],[13,.1,.1],[14,.1,.1],[15,.1,.1],[16,.2,.4],[17,-.8,1],[18,-1.1,1.5],[19,-1,1.1],[20,-.6,.7],[21,-.6,.8],[22,-.7,1.2],[23,-1.1,1.4],[24,-1.2,1.9],[25,-1.6,1.6],[26,-1.7,1.4],[27,-1.4,.9],[28,-1.3,.7],[29,-.7,.5],[30,.1,.1]]],
  [13.75, [[0,0,.2],[1,0,.5],[2,0,.9],[3,0,1],[4,.1,1.1],[5,.5,1],[6,.8,.8],[7,1.1,.2],[8,1.1,.1],[9,.3,0],[10,.1,0],[11,.1,0],[12,.1,0],[13,.1,0],[14,.7,.5],[15,1.1,0],[16,1.6,-.8],[17,1.5,-1],[18,1.8,-1.2],[19,1.3,-1.4],[20,-.3,.6],[21,-.3,.9],[22,-1.1,1.9],[23,-1.1,2.1],[24,-1,1.9],[25,-1,1.2],[26,-.6,.5],[27,.1,.1],[28,.1,.1],[29,.1,.1],[30,.1,.1]]],
  [10, [[0,.1,0],[1,.1,0],[2,.1,0],[3,.1,0],[4,0,.5],[5,.3,.5],[6,.8,.8],[7,1.2,.6],[8,1.3,.1],[9,.3,0],[10,.1,0],[11,.1,0],[12,.1,0],[13,.5,0],[14,3.1,-.5],[15,3.1,-.9],[16,3.2,-1.2],[17,2.1,-1.5],[18,1.9,-1],[19,.5,.3],[20,-.9,.8],[21,-.7,1.3],[22,-1.1,1.7],[23,-1.1,1.9],[24,-1,1.9],[25,-.5,1],[26,0,.2]]],
  [6.25, [[0,.1,0],[1,.1,0],[2,.1,0],[3,.1,0],[4,0,.7],[5,.4,.8],[6,.7,1.2],[7,1.3,.9],[8,1.4,1],[9,.9,1.2],[10,.2,.7],[11,.1,.1],[12,0,.7],[13,1.6,.1],[14,3.3,-.6],[15,4.2,-1.2],[16,3.5,-1.1],[17,2.8,-1],[18,.9,0],[19,.5,.5],[20,-1,1.6],[21,-1.1,2],[22,-1.1,2],[23,-.9,2],[24,-.7,1.5],[25,-.3,.8],[26,0,.2]]],
  [2.5, [[0,.1,0],[1,.1,0],[2,.1,0],[4,0,.7],[5,.4,1.1],[6,.8,1.4],[7,.9,1.5],[8,.7,1.6],[9,.5,1.6],[10,0,1.6],[11,-.1,1.6],[12,.3,1.4],[13,2,.4],[14,3.4,-.5],[15,4.3,-.9],[16,3.3,-.6],[17,1.5,.5],[18,-1,.8],[19,-1.6,1.2],[20,-2,1.6],[21,-1.3,1.6],[22,-.9,1.4],[23,-.5,.9],[24,-.4,1.2],[25,-.3,.5],[26,.1,.1]]],
  [-1.25, [[1,.1,0],[2,.1,0],[4,.1,0],[5,.4,.9],[6,.7,1.3],[7,.6,1.6],[8,.5,1.6],[9,.1,1.8],[10,-.4,1.6],[11,-.4,1.4],[12,0,1.1],[13,2,.4],[14,3.5,.1],[15,3.7,0],[16,2,.3],[17,.5,.8],[18,-2.5,1.3],[19,-3,1.6],[20,-2.6,1.4],[21,-1.8,1.2],[22,-.4,.5],[23,.1,.1],[24,.1,.1],[25,.1,.1],[26,.1,.1]]],
  [-5, [[4,.1,0],[5,.3,.8],[6,.5,1.1],[7,.6,1.3],[8,0,1.4],[9,0,1.6],[10,-.4,1.6],[11,-.4,1.1],[12,0,.9],[13,1.7,.5],[14,3.3,.1],[15,3.1,.4],[16,.8,1],[17,-.8,1],[18,-2.9,1.6],[19,-3.4,1.6],[20,-2.9,1.4],[21,-1.7,.9],[22,.1,.1]]],
  [-8.75, [[4,.1,0],[5,.1,0],[6,.3,.9],[7,.4,1.1],[8,0,1.4],[9,0,1.6],[10,-.4,1.4],[11,-.4,1.1],[12,0,.9],[13,1.7,.5],[14,2.2,.4],[15,2.4,.5],[16,.6,1],[17,-.6,.9],[18,-2.3,1.4],[19,-2.8,1.2],[20,-2.4,1.2],[21,-1.3,.6],[22,.1,.1]]],
  [-12.5, [[4,.1,0],[5,.1,0],[6,.2,.7],[7,.3,.9],[8,.3,.9],[9,0,.9],[10,-.3,.9],[11,-.3,.7],[12,0,.7],[13,.5,1.1],[14,1.5,.1],[15,1.3,.2],[16,.3,.6],[17,-.6,.6],[18,-1.2,.7],[19,-1.7,.7],[20,-1.3,.6],[21,-.7,.3],[22,.1,.1]]],
  [-16.25, [[5,.1,0],[6,.1,0],[7,.1,0],[8,.1,0],[9,.1,0],[10,.1,0],[11,.1,0],[12,.1,0],[13,.1,0],[14,.6,0],[15,.1,0],[16,.1,0],[17,.2,.1],[18,-.3,.1],[19,-.5,.1],[20,-.3,.1],[21,-.2,.1]]]
];

// ---- layout ----
const width = 2802;
const height = 1440;
const pxPerUnit = 8.29;
const colours = { red: "#ed1c24", green: "#208b59", grey: "#b4b4b4", olive: "#77ac30", blue: "#0072bd", frame: "#cbcccb", ink: "#262626" };
const dotRadius = 3.7;

const svg = d3.select("#chart")
  .append("svg")
    .attr("width", width)
    .attr("height", height)
    .attr("viewBox", `0 0 ${width} ${height}`);

const yScale = d3.scaleLinear().domain([-25, 120]).range([1347.1, 145.0]);
const makeX = left => d3.scaleLinear().domain([-25, 120]).range([left, left + 145 * pxPerUnit]);
const xLeft = makeX(121.9);
const xRight = makeX(1530.8);

const drawFrame = (xScale, gridWidth) => {
  const g = svg.append("g");
  g.append("rect")
    .attr("x", xScale(-25)).attr("y", yScale(120))
    .attr("width", xScale(120) - xScale(-25)).attr("height", yScale(-25) - yScale(120))
    .attr("fill", colours.frame);
  g.append("rect")
    .attr("x", xScale(-20)).attr("y", yScale(115))
    .attr("width", xScale(115) - xScale(-20)).attr("height", yScale(-20) - yScale(115))
    .attr("fill", "#fff");

  // grid
  g.selectAll(".gx").data(gridLines).join("line")
    .attr("x1", d => xScale(d)).attr("x2", d => xScale(d))
    .attr("y1", yScale(115)).attr("y2", yScale(-20))
    .attr("stroke", "#000").attr("stroke-width", d => gridWidth.x(d));
  g.selectAll(".gy").data(gridLines).join("line")
    .attr("y1", d => yScale(d)).attr("y2", d => yScale(d))
    .attr("x1", xScale(-20)).attr("x2", xScale(115))
    .attr("stroke", "#000").attr("stroke-width", d => gridWidth.y(d));
  g.append("rect")
    .attr("x", xScale(-20)).attr("y", yScale(115))
    .attr("width", xScale(115) - xScale(-20)).attr("height", yScale(-20) - yScale(115))
    .attr("fill", "none").attr("stroke", "#000").attr("stroke-width", 2.7);

  // axes with inward ticks
  const fmt = d => String(d);
  const styleAxis = sel => {
    sel.select(".domain").remove();
    sel.selectAll(".tick line").attr("stroke", colours.ink).attr("stroke-width", 2.6);
    sel.selectAll(".tick text")
      .attr("fill", colours.ink)
      .style("font-family", "'DejaVu Sans', sans-serif")
      .style("font-size", "38px");
  };
  g.append("g").attr("transform", `translate(0,${yScale(-25)})`)
    .call(d3.axisBottom(xScale).tickValues(axisTicks).tickSize(-13).tickPadding(25).tickFormat(fmt))
    .call(styleAxis);
  g.append("g").attr("transform", `translate(0,${yScale(120)})`)
    .call(d3.axisTop(xScale).tickValues(axisTicks).tickSize(-13).tickFormat(() => ""))
    .call(styleAxis);
  g.append("g").attr("transform", `translate(${xScale(-25)},0)`)
    .call(d3.axisLeft(yScale).tickValues(axisTicks).tickSize(-13).tickPadding(19).tickFormat(fmt))
    .call(styleAxis);
  g.append("g").attr("transform", `translate(${xScale(120)},0)`)
    .call(d3.axisRight(yScale).tickValues(axisTicks).tickSize(-13).tickFormat(() => ""))
    .call(styleAxis);

  // outer box
  g.append("rect")
    .attr("x", xScale(-25)).attr("y", yScale(120))
    .attr("width", xScale(120) - xScale(-25)).attr("height", yScale(-25) - yScale(120))
    .attr("fill", "none").attr("stroke", colours.ink).attr("stroke-width", 2.7);
};

const drawCloud = (xScale, points, colour) => {
  svg.append("g")
    .selectAll("circle")
    .data(points)
    .join("circle")
      .attr("cx", d => xScale(d[0]))
      .attr("cy", d => yScale(d[1]))
      .attr("r", dotRadius)
      .attr("fill", colour);
};

// title parts: plain serif text, script letters keep their own glyphs
const drawTitle = (cx, parts, targetWidth) => {
  const t = svg.append("text")
    .attr("text-anchor", "middle")
    .style("font-family", "'Liberation Serif', 'DejaVu Serif', serif")
    .style("font-size", "64px");
  parts.forEach(p => {
    const s = t.append("tspan")
      .text(p.text)
      .attr("fill", p.colour || "#000");
    if (p.dx) s.attr("dx", p.dx);
  });
  const w = t.node().getBBox().width;
  t.attr("transform", `translate(${cx},87) scale(${targetWidth / w},1)`);
};

/*************** left panel ***************/
drawFrame(xLeft, { x: d => (d === 10 ? 1.1 : 1.9), y: () => 1.9 });
drawCloud(xLeft, cloudQ, colours.green);
drawCloud(xLeft, cloudP, colours.red);
svg.append("g")
  .selectAll("line")
  .data(matches)
  .join("line")
    .attr("x1", d => xLeft(d[0])).attr("y1", d => yScale(d[1]))
    .attr("x2", d => xLeft(d[2])).attr("y2", d => yScale(d[3]))
    .attr("stroke", colours.olive)
    .attr("stroke-width", 2);

/*************** right panel ***************/
drawFrame(xRight, { x: d => (d === 25 || d === 40 ? 2.5 : 1.9), y: d => (d === 55 ? 2.9 : 1.9) });
drawCloud(xRight, cloudP, colours.grey);
drawCloud(xRight, cloudQ, colours.green);
drawCloud(xRight, cloudTP, colours.red);

// quiver: shaft plus two short barbs at the tip
const arrows = [];
quiverRows.forEach(([gy, cells]) => {
  cells.forEach(([i, u, v]) => arrows.push({ x: quiverGrid[i], y: gy, u, v }));
});
const arrowPath = d => {
  const x0 = xRight(d.x), y0 = yScale(d.y);
  const x1 = xRight(d.x + d.u), y1 = yScale(d.y + d.v);
  const dx = x1 - x0, dy = y1 - y0;
  const len = Math.hypot(dx, dy);
  let p = `M${x0},${y0}L${x1},${y1}`;
  if (len > 4) {
    const h = 0.3 * len, a = 0.38;
    const bx = -dx / len, by = -dy / len;
    const hx1 = x1 + h * (bx * Math.cos(a) - by * Math.sin(a));
    const hy1 = y1 + h * (bx * Math.sin(a) + by * Math.cos(a));
    const hx2 = x1 + h * (bx * Math.cos(-a) - by * Math.sin(-a));
    const hy2 = y1 + h * (bx * Math.sin(-a) + by * Math.cos(-a));
    p += `M${hx1},${hy1}L${x1},${y1}L${hx2},${hy2}`;
  }
  return p;
};
svg.append("g")
  .selectAll("path")
  .data(arrows)
  .join("path")
    .attr("d", arrowPath)
    .attr("fill", "none")
    .attr("stroke", colours.blue)
    .attr("stroke-width", 2)
    .attr("stroke-linecap", "round");

/*************** titles ***************/
drawTitle(721, [
  { text: "original state of point clouds " },
  { text: "\u{1D4AB}", colour: colours.red },
  { text: " and ", dx: 10 },
  { text: "\u{1D4AC}", colour: colours.green }
], 1111);
drawTitle(2133, [
  { text: "adjusted state of point clouds " },
  { text: "\u{1D4AF}", colour: colours.red },
  { text: "(", colour: colours.red, dx: 4 },
  { text: "\u{1D4AB}", colour: colours.red },
  { text: ")", colour: colours.red, dx: 4 },
  { text: " and " },
  { text: "\u{1D4AC}", colour: colours.green }
], 1255);
</script>
</body>
</html>
